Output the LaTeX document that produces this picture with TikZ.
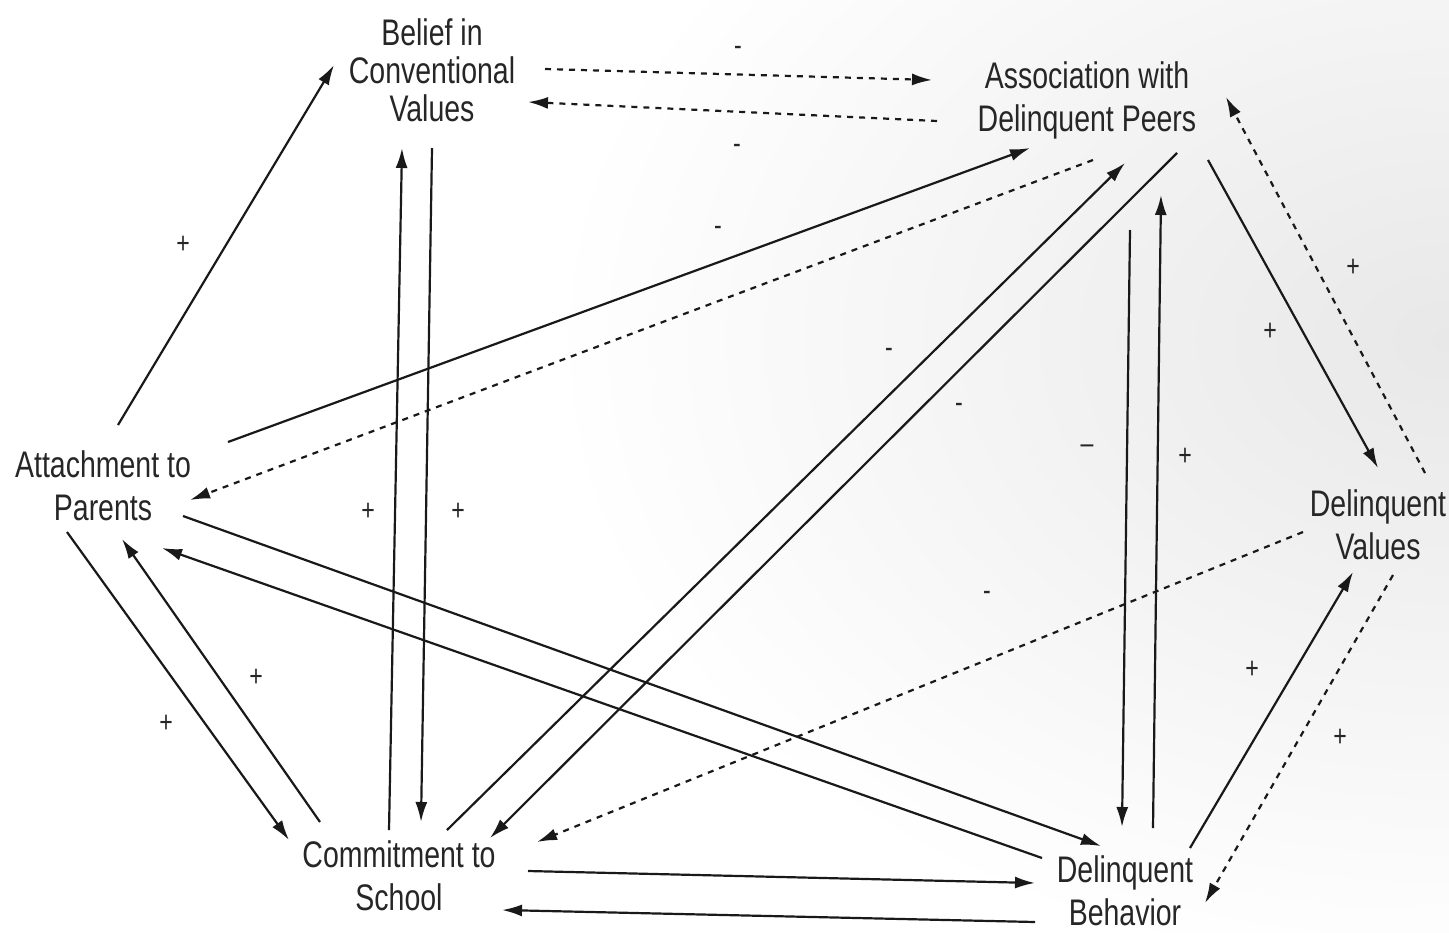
\documentclass[tikz,border=0pt]{standalone}
\usepackage{fontspec}
\setmainfont{Liberation Sans}[FakeStretch=0.77]
\usetikzlibrary{arrows.meta}
\begin{document}
\begin{tikzpicture}[x=0.5pt,y=-0.5pt,
  lbl/.style={font=\fontsize{18.5}{21.5}\selectfont, align=center, text=black!85, inner sep=0pt},
  arr/.style={-{Latex[length=10pt,width=6pt]}, line width=1.1pt, draw=black!90},
  dsh/.style={arr, dash pattern=on 3pt off 3pt},
  sg/.style={font=\fontsize{15}{15}\selectfont, inner sep=0pt, text=black!85}]
\useasboundingbox (0,0) rectangle (1449,932);
\begin{scope}
  \clip (0,0) rectangle (1449,932);
  \shade[inner color=black!9, outer color=white] (1449,340) ellipse [x radius=900, y radius=640];
\end{scope}
% nodes
\node[lbl, font=\fontsize{18.5}{19}\selectfont] (B) at (432,70) {Belief in\\Conventional\\Values};
\node[lbl] (A) at (1087,100) {Association with\\Delinquent Peers};
\node[lbl] (P) at (103,486) {Attachment to\\Parents};
\node[lbl] (V) at (1378,525) {Delinquent\\Values};
\node[lbl] (C) at (399,876) {Commitment to\\School};
\node[lbl] (D) at (1125,891) {Delinquent\\Behavior};
% connectors
\draw[arr] ([shift={(15,-61)}]P.center) -- ([shift={(-98,-5)}]B.center);
\draw[arr] ([shift={(-10,-46)}]C.center) -- ([shift={(-30,78)}]B.center);
\draw[arr] ([shift={(0,78)}]B.center) -- ([shift={(22,-54)}]C.center);
\draw[dsh] ([shift={(113,-1)}]B.center) -- ([shift={(-155,-20)}]A.center);
\draw[dsh] ([shift={(-150,21)}]A.center) -- ([shift={(96,32)}]B.center);
\draw[arr] ([shift={(125,-44)}]P.center) -- ([shift={(-57,48)}]A.center);
\draw[dsh] ([shift={(6,60)}]A.center) -- ([shift={(87,14)}]P.center);
\draw[arr] ([shift={(48,-46)}]C.center) -- ([shift={(38,63)}]A.center);
\draw[arr] ([shift={(90,53)}]A.center) -- ([shift={(91,-38)}]C.center);
\draw[arr] ([shift={(121,60)}]A.center) -- ([shift={(0,-57)}]V.center);
\draw[dsh] ([shift={(47,-52)}]V.center) -- ([shift={(139,-3)}]A.center);
\draw[arr] ([shift={(43,130)}]A.center) -- ([shift={(-3,-64)}]D.center);
\draw[arr] ([shift={(28,-63)}]D.center) -- ([shift={(74,95)}]A.center);
\draw[arr] ([shift={(80,30)}]P.center) -- ([shift={(-24,-45)}]D.center);
\draw[arr] ([shift={(-83,-33)}]D.center) -- ([shift={(59,62)}]P.center);
\draw[arr] ([shift={(-36,46)}]P.center) -- ([shift={(-110,-36)}]C.center);
\draw[arr] ([shift={(-79,-54)}]C.center) -- ([shift={(19,53)}]P.center);
\draw[dsh] ([shift={(-75,7)}]V.center) -- ([shift={(138,-34)}]C.center);
\draw[arr] ([shift={(129,-5)}]C.center) -- ([shift={(-90,-8)}]D.center);
\draw[arr] ([shift={(-90,31)}]D.center) -- ([shift={(103,34)}]C.center);
\draw[arr] ([shift={(65,-43)}]D.center) -- ([shift={(-25,47)}]V.center);
\draw[dsh] ([shift={(15,50)}]V.center) -- ([shift={(80,12)}]D.center);
% signs
\node[sg] (s1) at (183,245) {+};
\node[sg] (s2) at (368,512) {+};
\node[sg] (s3) at (458,512) {+};
\node[sg] (s4) at (256,678) {+};
\node[sg] (s5) at (166,724) {+};
\node[sg] (s6) at (1353,268) {+};
\node[sg] (s7) at (1270,332) {+};
\node[sg] (s8) at (1185,457) {+};
\node[sg] (s9) at (1252,670) {+};
\node[sg] (s10) at (1340,738) {+};
\node[sg] (m1) at (738,51) {-};
\node[sg] (m2) at (737,149) {-};
\node[sg] (m3) at (718,231) {-};
\node[sg] (m4) at (889,353) {-};
\node[sg] (m5) at (959,408) {-};
\node[sg] (m6) at (1087,449) {–};
\node[sg] (m7) at (987,596) {-};
\end{tikzpicture}
\end{document}
